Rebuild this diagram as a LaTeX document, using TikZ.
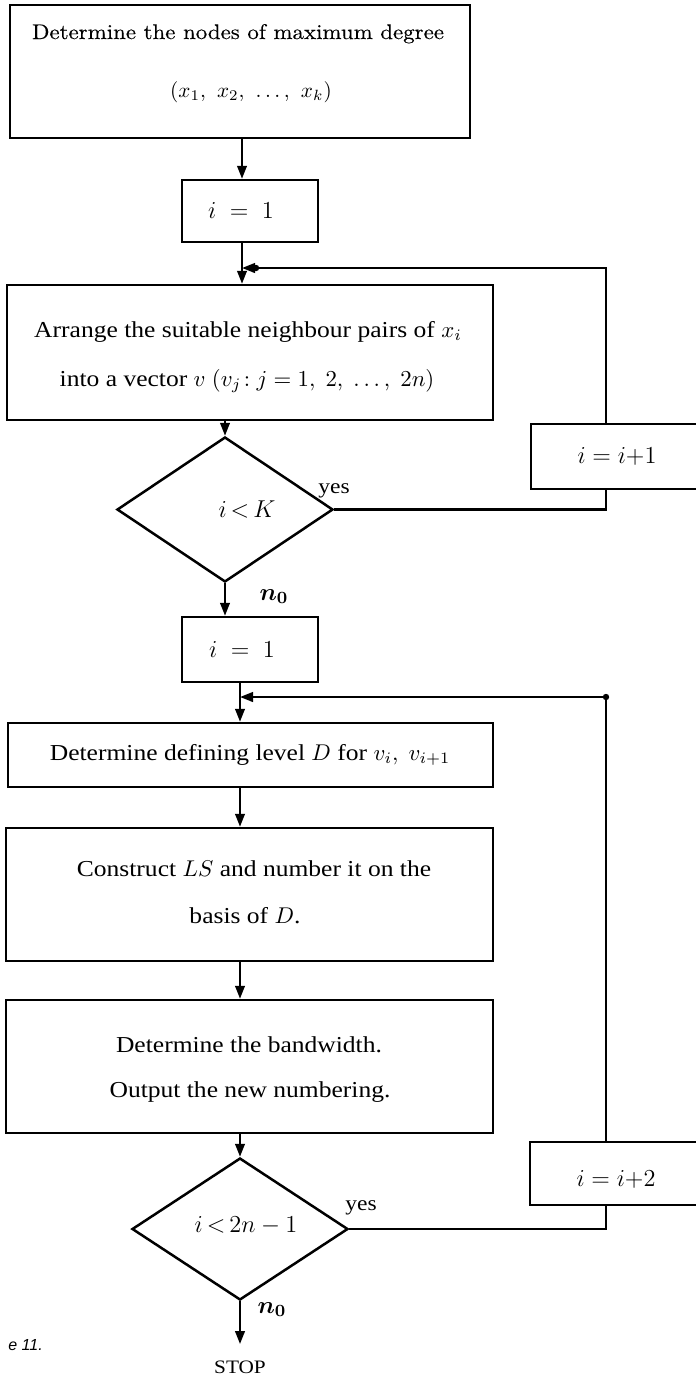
\RequirePackage{fix-cm}
\documentclass[tikz,border=0pt]{standalone}
\usepackage{bm}
\usepackage[no-math]{fontspec}
\setmainfont{Liberation Serif}[FakeStretch=1.12]
\newfontfamily\lmfont{Latin Modern Roman}[FakeStretch=1.08,FakeBold=0.3]
\newfontfamily\capfont{Liberation Sans}
\usetikzlibrary{arrows.meta,shapes.geometric}
\tikzset{
  box/.style={draw, rectangle, line width=1.25pt, inner sep=0pt},
  cond/.style={draw, diamond, line width=1.25pt, inner sep=0pt},
  txt/.style={anchor=base, inner sep=0pt, font=\fontsize{11.4}{13}\selectfont},
  toptxt/.style={anchor=base, inner sep=0pt, font=\lmfont\fontsize{10.6}{12}\selectfont},
  lab/.style={anchor=base, inner sep=0pt, font=\fontsize{12.2}{14}\selectfont},
  yeslab/.style={anchor=base, inner sep=0pt, font=\fontsize{10.5}{12}\selectfont},
  stoplab/.style={anchor=base, inner sep=0pt, font=\fontsize{9.5}{11}\selectfont},
  figlab/.style={anchor=base west, inner sep=0pt, font=\capfont\itshape\fontsize{8}{9}\selectfont},
  flow/.style={line width=1.15pt, -{Triangle[length=6.5pt,width=4.8pt]}},
  wire/.style={line width=1.15pt},
  dot/.style={circle, fill, inner sep=0pt, minimum size=3.2pt}
}
\begin{document}
\begin{tikzpicture}[x=0.5pt,y=-0.5pt]
\useasboundingbox (0,0) rectangle (696,1378);
% columns
\coordinate (cA) at (242,0);
\coordinate (cC) at (240,0);
\coordinate (r1) at (606,0);
% boxes
\node[box, minimum width=230pt, minimum height=66.5pt] (top) at (240,71.5) {};
\node[toptxt] (topL1) at (238,39) {Determine the nodes of maximum degree};
\node[toptxt] (topL2) at (251,97) {$(x_1,\ x_2,\ \ldots,\ x_k)$};

\node[box, minimum width=68pt, minimum height=31pt] (i1a) at (250,211) {};
\node[lab] (i1aT) at (241,218) {$i\;=\;1$};

\node[box, minimum width=243pt, minimum height=67.5pt] (arr) at (250,352.5) {};
\node[txt] (arrL1) at (248,337) {Arrange the suitable neighbour pairs of $x_i$};
\node[txt] (arrL2) at (247,386) {into a vector $v\ (v_j\!: j = 1,\ 2,\ \ldots,\ 2n)$};

\node[cond, minimum width=108pt, minimum height=72.5pt] (d1) at (225,509.5) {};
\node[lab] (d1T) at (247,517) {$i\,{<}\,K$};
\node[yeslab] (yes1) at (334,493) {yes};

\node[box, minimum width=84.5pt, minimum height=32.5pt] (inc1) at (615.5,456.5) {};
\node[lab] (inc1T) at (617,463) {$i = i{+}1$};

\node[lab] (no1) at (274,600) {$\bm{n}_{\mathbf{0}}$};

\node[box, minimum width=68pt, minimum height=32.5pt] (i1b) at (250,649.5) {};
\node[lab] (i1bT) at (242,657) {$i\;=\;1$};

\node[box, minimum width=242.5pt, minimum height=32pt] (det) at (250.5,755) {};
\node[txt] (detT) at (250,760) {Determine defining level $D$ for $v_i,\ v_{i+1}$};

\node[box, minimum width=243.5pt, minimum height=66.5pt] (cons) at (249.5,894.5) {};
\node[txt] (consL1) at (254,876) {Construct $LS$ and number it on the};
\node[txt] (consL2) at (245,923) {basis of $D$.};

\node[box, minimum width=243.5pt, minimum height=66.5pt] (band) at (249.5,1066.5) {};
\node[txt] (bandL1) at (249,1052) {Determine the bandwidth.};
\node[txt] (bandL2) at (250,1097) {Output the new numbering.};

\node[cond, minimum width=108pt, minimum height=71pt] (d2) at (240,1229) {};
\node[lab] (d2T) at (246,1232) {$i\,{<}\,2n-1$};
\node[yeslab] (yes2) at (361,1210) {yes};

\node[box, minimum width=85pt, minimum height=31.5pt] (inc2) at (615,1173.5) {};
\node[lab] (inc2T) at (616,1186) {$i = i{+}2$};

\node[lab] (no2) at (272,1313) {$\bm{n}_{\mathbf{0}}$};
\node[stoplab] (stop) at (240,1373) {STOP};
\coordinate (stopTip) at (240,1344);
\node[figlab] (fig) at (8,1350) {e 11.};

% main flow
\draw[flow] (top.south -| cA) -- (i1a.north -| cA);
\draw[flow] (i1a.south -| cA) -- (arr.north -| cA);
\draw[flow] (arr.south -| d1.north) -- (d1.north);
\draw[flow] (d1.south) -- (i1b.north -| d1.south);
\draw[flow] (i1b.south -| cC) -- (det.north -| cC);
\draw[flow] (det.south -| cC) -- (cons.north -| cC);
\draw[flow] (cons.south -| cC) -- (band.north -| cC);
\draw[flow] (band.south -| d2.north) -- (d2.north);
\draw[flow] (d2.south) -- (stopTip);

% loop 1
\coordinate (j1) at (242,268);
\draw[wire] (d1.east) -- (d1.east -| r1) -- (inc1.south -| r1);
\draw[flow] (inc1.north -| r1) |- (j1);
\node[dot] (j1dot) at (256,268) {};

% loop 2
\coordinate (j2) at (240,697);
\draw[wire] (d2.east) -- (d2.east -| r1) -- (inc2.south -| r1);
\draw[flow] (inc2.north -| r1) |- (j2);
\node[dot] (c2dot) at (606,697) {};
\end{tikzpicture}
\end{document}
